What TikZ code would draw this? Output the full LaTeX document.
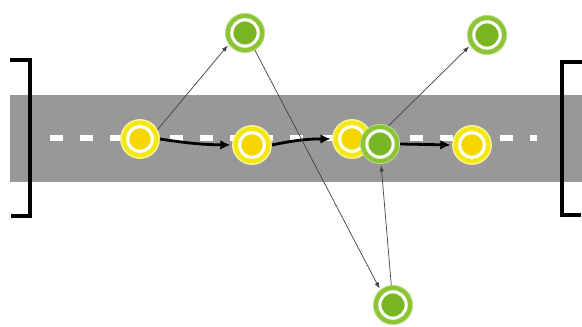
\documentclass[tikz,border=0pt]{standalone}
\usepackage{tikz}
\usetikzlibrary{arrows.meta}

\definecolor{road}{RGB}{152,152,152}
\definecolor{caryl}{RGB}{244,232,20}
\definecolor{carin}{RGB}{246,214,0}
\definecolor{uavout}{RGB}{140,196,52}
\definecolor{uavin}{RGB}{122,182,36}

\begin{document}
\begin{tikzpicture}[>=latex,shorten >=1pt]
\tikzstyle{car}=[circle,minimum size=0.96cm,inner sep=0pt,fill=caryl,draw=caryl!45!white,line width=1pt,
  path picture={\fill[carin] (path picture bounding box.center) circle (0.28cm);
                \draw[white,line width=2.2pt] (path picture bounding box.center) circle (0.31cm);}]
\tikzstyle{uav}=[circle,minimum size=0.98cm,inner sep=0pt,fill=uavout,draw=uavout!60!white,line width=0.6pt,
  path picture={\fill[uavin] (path picture bounding box.center) circle (0.29cm);
                \draw[white,line width=2.2pt] (path picture bounding box.center) circle (0.33cm);}]
\tikzstyle{move}=[-{Latex[length=2.6mm,width=2.4mm]},line width=2pt,black]
\tikzstyle{link}=[->,line width=0.5pt,black!75]
\tikzstyle{bracket}=[line width=2.8pt,black]
\useasboundingbox (0,0) rectangle (14.55,8.175);

% road
\fill[road] (0.25,3.625) rectangle (14.55,5.8);
\draw[white,line width=4.2pt,dash pattern=on 0.33cm off 0.42cm] (1.25,4.725) -- (13.45,4.725);
\draw[bracket] (0.25,6.675) -- (0.75,6.675) -- (0.75,2.775) -- (0.25,2.775);
\draw[bracket] (14.55,6.625) -- (14.05,6.625) -- (14.05,2.8) -- (14.55,2.8);

% vehicles
\node[car](V1) at (3.5,4.7) {};
\node[car](V2) at (6.3,4.55) {};
\node[car](V3) at (8.8,4.7) {};
\node[car](V4) at (11.8,4.55) {};

% drones
\node[uav](U1) at (6.125,7.35) {};
\node[uav](U2) at (12.175,7.3) {};
\node[uav](U3) at (9.5,4.575) {};
\node[uav](U4) at (9.825,0.55) {};

\draw[move] (V1.east) to[bend right=4] (V2.west);
\draw[move] (V2.east) to[bend left=6] (V3.west);
\draw[move] (U3.east) -- (V4.west);

\draw[link] (V1.28) -- (U1.215);
\draw[link] (U1.300) -- (U4.130);
\draw[link] (U3.65) -- (U2.212);
\draw[link] (U4.95) -- (U3.273);
\end{tikzpicture}
\end{document}
